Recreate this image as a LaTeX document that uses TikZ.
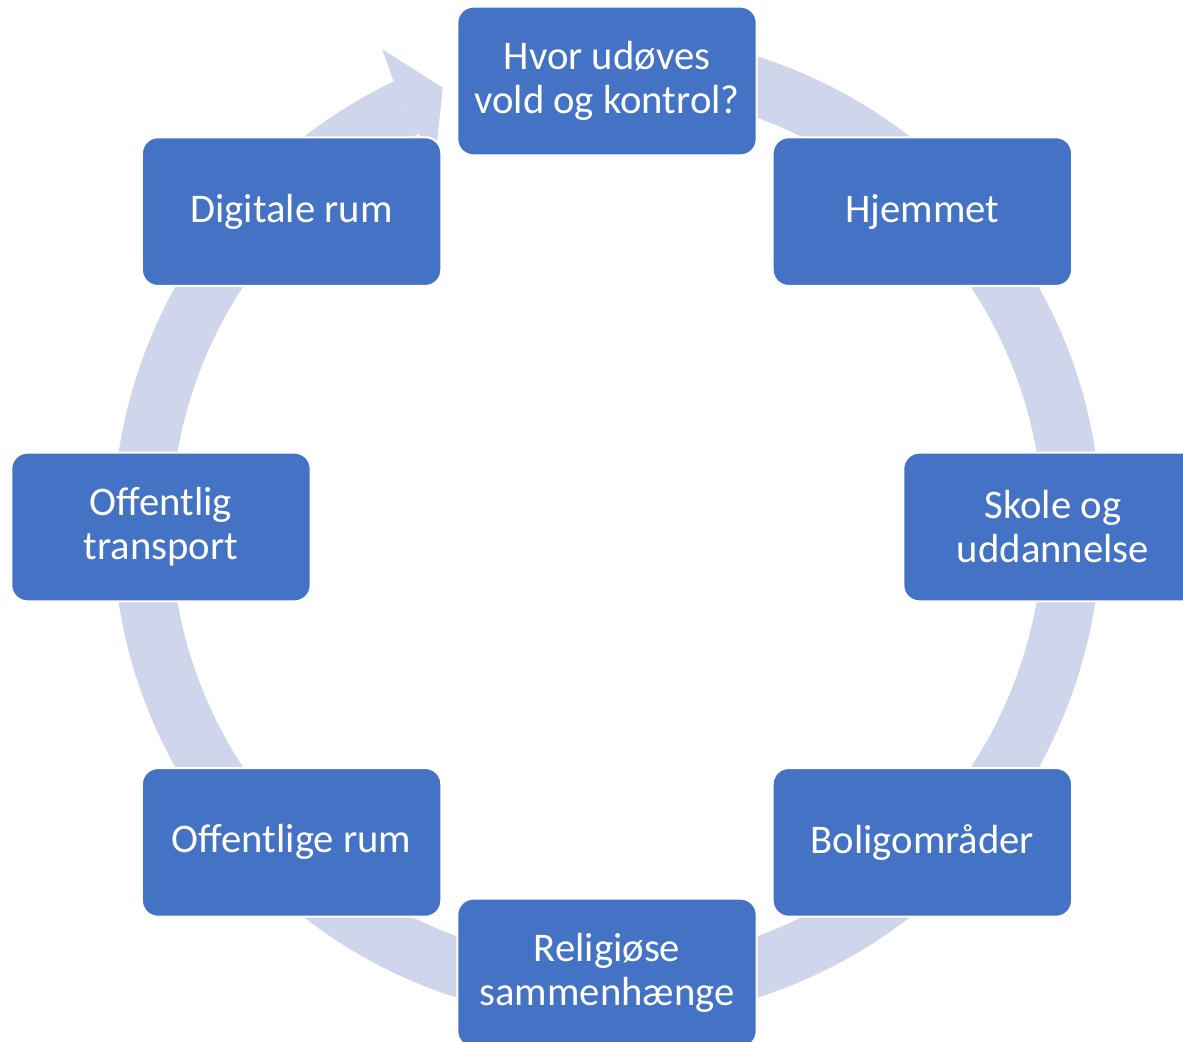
\documentclass[tikz,border=0pt]{standalone}
\usepackage{fontspec}
\setmainfont{Carlito}
\usepackage{tikz}
\definecolor{boksblaa}{HTML}{4472C4}
\definecolor{ringgraa}{HTML}{CFD5EA}

\begin{document}
\begin{tikzpicture}[x=0.75pt, y=0.75pt]
    \tikzstyle{felt}=[rectangle, rounded corners=12pt, fill=boksblaa, draw=white, line width=1.5pt,
        text=white, minimum width=224.5pt, minimum height=111.5pt, inner sep=0pt, align=center,
        font=\fontsize{30.5}{33}\selectfont]
    \tikzstyle{ring}=[fill=ringgraa, draw=none]

    \useasboundingbox (-607,-515) rectangle (576,527);

    % ring with arrow head
    \fill[ring] (80:494) arc[start angle=80, end angle=-244.4, radius=494]
        -- (-244.4:436) arc[start angle=-244.4, end angle=80, radius=436] -- cycle;
    \fill[ring] (115.6:493) -- (115.2:528) -- (110.5:469) -- (115.2:404) -- (115.6:437) -- cycle;

    \node[felt] (hvor) at (90:446) {Hvor udøves\\vold og kontrol?};
    \node[felt] (hjem) at (45:446) {Hjemmet};
    \node[felt] (skole) at (0:446) {Skole og\\uddannelse};
    \node[felt] (bolig) at (-45:446) {Boligområder};
    \node[felt] (relig) at (-90:446) {Religiøse\\sammenhænge};
    \node[felt] (offrum) at (-135:446) {Offentlige rum};
    \node[felt] (transp) at (180:446) {Offentlig\\transport};
    \node[felt] (digi) at (135:446) {Digitale rum};
\end{tikzpicture}
\end{document}
